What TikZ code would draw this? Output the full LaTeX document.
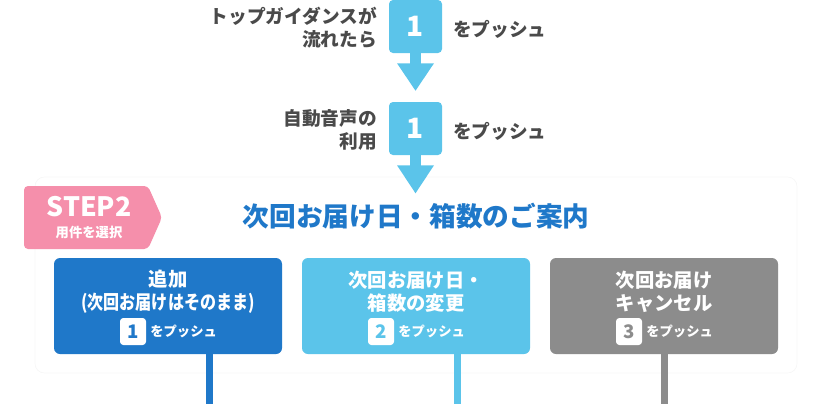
\documentclass[tikz,border=0pt]{standalone}
\usepackage{fontspec}
\setmainfont{Noto Sans CJK JP}
\newfontfamily\jpnarrow{Noto Sans CJK JP}[FakeStretch=0.83]
\usetikzlibrary{calc}
\definecolor{lblue}{HTML}{5BC4EA}
\definecolor{dblue}{HTML}{1F78C9}
\definecolor{gbox}{HTML}{8C8C8C}
\definecolor{pinkc}{HTML}{F58FAB}
\definecolor{txt}{HTML}{4A4A4A}
\tikzset{
  keybox/.style={fill=lblue, rounded corners=3pt, minimum width=39.75pt, minimum height=39.75pt, inner sep=0pt, text=white, font=\bfseries\fontsize{21pt}{21pt}\selectfont},
  lefttext/.style={anchor=east, align=right, text=txt, inner sep=0pt, font=\bfseries\fontsize{14pt}{17.25pt}\selectfont},
  pushtext/.style={anchor=west, text=txt, inner sep=0pt, font=\bfseries\fontsize{14pt}{17pt}\selectfont},
  choice/.style={fill=#1, rounded corners=4.5pt, minimum width=171pt, minimum height=72pt, inner sep=0pt},
  choicetitle/.style={align=center, text=white, inner sep=0pt, font=\bfseries\fontsize{14.5pt}{17.25pt}\selectfont},
  digitbox/.style={fill=white, rounded corners=2.5pt, minimum width=19.5pt, minimum height=20.25pt, inner sep=0pt, text=#1, font=\bfseries\fontsize{14pt}{14pt}\selectfont},
  smallpush/.style={text=white, inner sep=0pt, font=\bfseries\fontsize{10pt}{10pt}\selectfont},
  stemline/.style={line width=5.25pt, draw=#1},
}
\begin{document}
\begin{tikzpicture}[x=0.75pt,y=-0.75pt]
\useasboundingbox (0,0) rectangle (832,404);
\coordinate (bot) at (0,404);

% background panel
\draw[draw=black!3, fill=white, rounded corners=7pt, line width=0.5pt] (35,177) rectangle (797,373);

% top steps
\node[keybox] (k1) at (415.5,26.5) {1};
\node[lefttext] (t1) at (377,28) {トップガイダンスが\\流れたら};
\node[pushtext] (p1) at (453,29.5) {をプッシュ};

\node[keybox] (k2) at (415.5,128.5) {1};
\node[lefttext] (t2) at (377,130) {自動音声の\\利用};
\node[pushtext] (p2) at (453,131.5) {をプッシュ};

% arrows
\fill[lblue] ($(k1.south)+(-5.5,0)$) rectangle ($(k1.south)+(5.5,11)$);
\fill[lblue] ($(k1.south)+(-18.5,10)$) -- ($(k1.south)+(18.5,10)$) -- ($(k2.north)+(0,-11)$) -- cycle;
\fill[lblue] ($(k2.south)+(-5.5,0)$) rectangle ($(k2.south)+(5.5,11)$);
\fill[lblue] ($(k2.south)+(-18.5,10)$) -- ($(k2.south)+(18.5,10)$) -- ($(k2.south)+(0,38)$) coordinate (tip2) -- cycle;

% STEP2 badge
\fill[pinkc, rounded corners=3pt] (24,186) -- (148,186) -- (162,217.5) -- (148,249) -- (24,249) -- cycle;
\node[text=white, inner sep=0pt, font=\bfseries\fontsize{20pt}{20pt}\selectfont] (step) at (89,207) {STEP2};
\node[text=white, inner sep=0pt, font=\bfseries\fontsize{10pt}{10pt}\selectfont] (stepsub) at (89,232) {用件を選択};

% title
\node[text=dblue, inner sep=0pt, font=\bfseries\fontsize{20pt}{20pt}\selectfont] (title) at (416,216) {次回お届け日・箱数のご案内};

% choice boxes
\node[choice=dblue] (b1) at (168,306) {};
\node[choice=lblue] (b2) at (416,306) {};
\node[choice=gbox] (b3) at (664,306) {};

\node[choicetitle] (c1) at (168,291.5) {追加\\{\jpnarrow\bfseries(次回お届けはそのまま)}};
\node[choicetitle] (c2) at (416,291.5) {次回お届け日・\\箱数の変更};
\node[choicetitle] (c3) at (664,291.5) {次回お届け\\キャンセル};

\node[digitbox=dblue] (d1) at (133,331.5) {1};
\node[smallpush, anchor=west] (s1) at (150,331.5) {をプッシュ};
\node[digitbox=lblue] (d2) at (381,331.5) {2};
\node[smallpush, anchor=west] (s2) at (398,331.5) {をプッシュ};
\node[digitbox=gbox] (d3) at (629,331.5) {3};
\node[smallpush, anchor=west] (s3) at (646,331.5) {をプッシュ};

% stems below boxes
\draw[stemline=dblue] ($(b1.south)+(41.5,0)$) coordinate (l1) -- (l1 |- bot);
\draw[stemline=lblue] ($(b2.south)+(41,0)$) coordinate (l2) -- (l2 |- bot);
\draw[stemline=gbox] ($(b3.south)+(0,0)$) coordinate (l3) -- (l3 |- bot);
\end{tikzpicture}
\end{document}
